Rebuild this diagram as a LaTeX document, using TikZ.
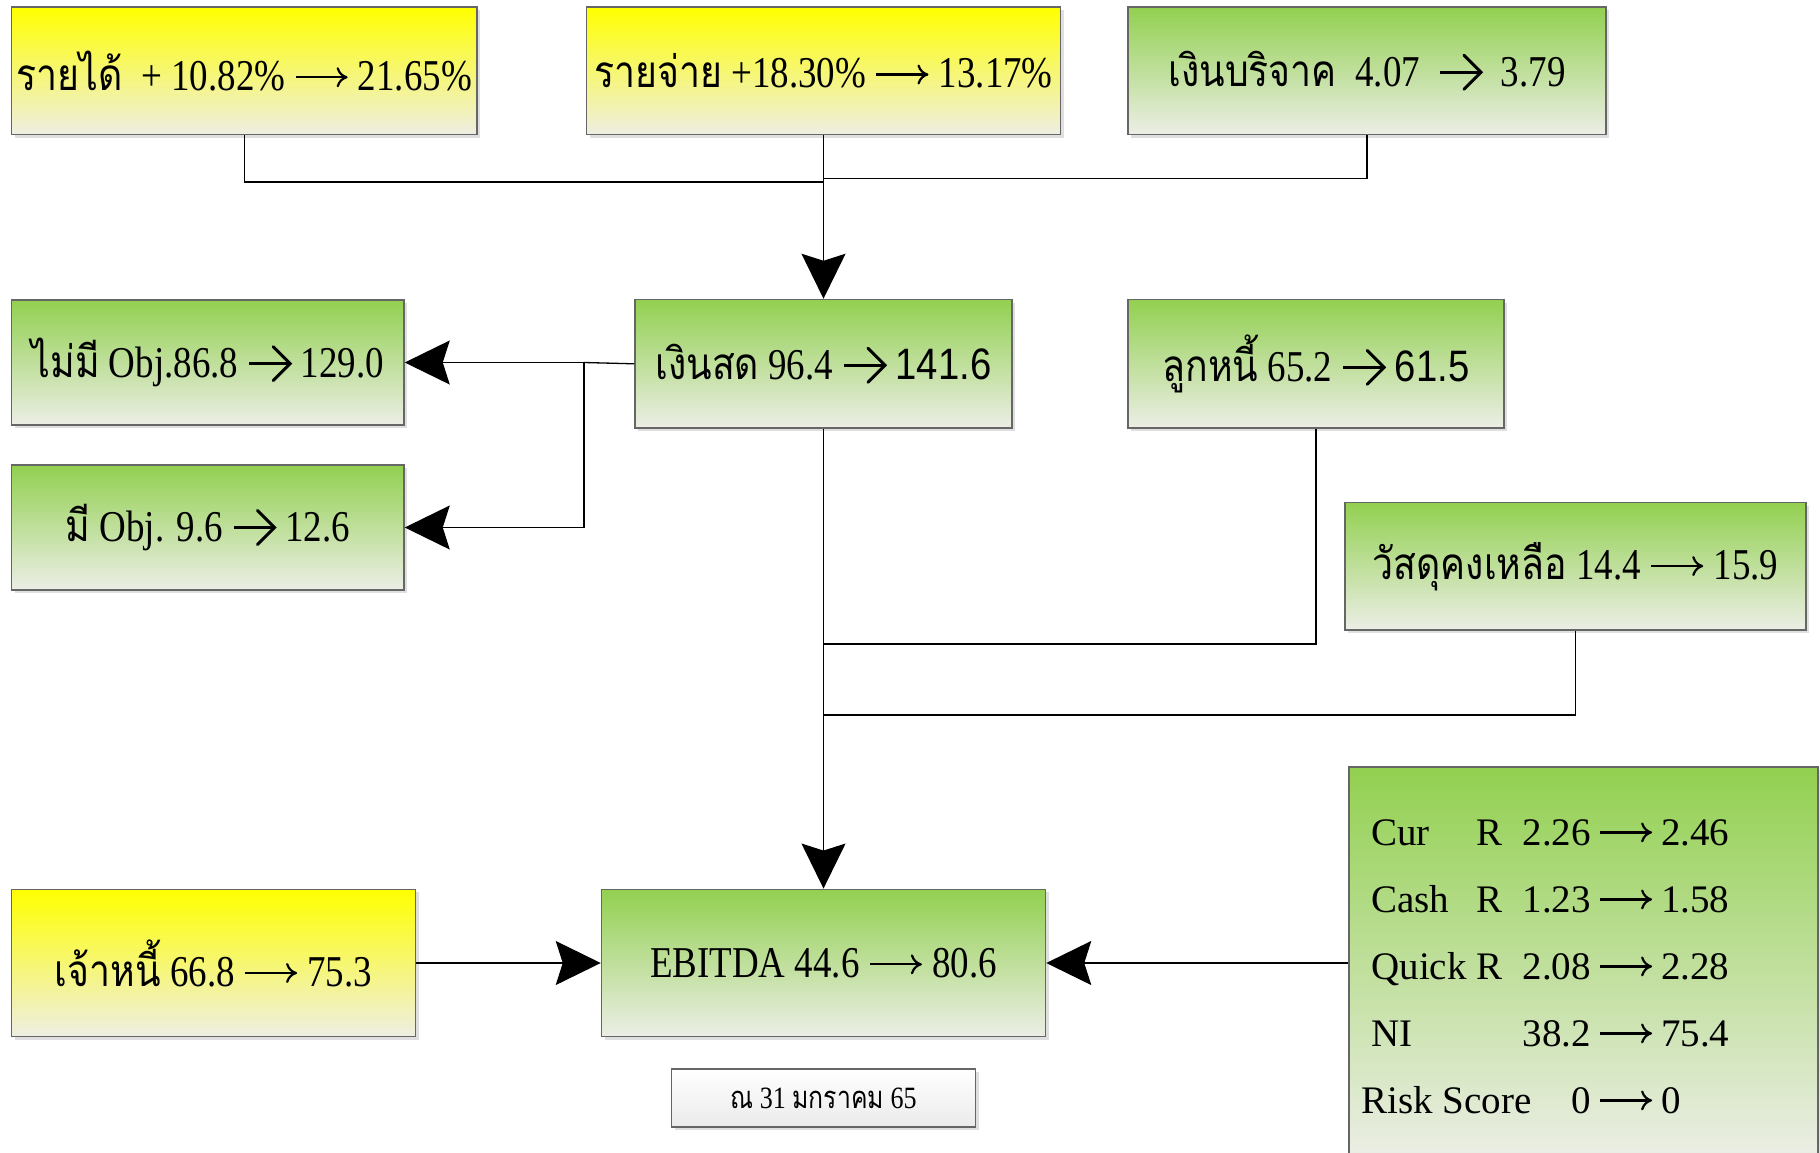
\documentclass[tikz,border=0pt]{standalone}
\usepackage{fontspec}
\setmainfont{Liberation Serif}
\newfontfamily\thai[Script=Thai,FakeStretch=0.85]{Loma}
\newfontfamily\thaismall[Script=Thai,FakeStretch=0.8]{Loma}
\newfontfamily\cond[FakeStretch=0.84]{Liberation Serif}
\newfontfamily\condsans[FakeStretch=0.87]{Liberation Sans}
\usetikzlibrary{arrows.meta,shadows}
\definecolor{gtop}{RGB}{146,208,80}
\definecolor{gbot}{RGB}{236,238,230}
\definecolor{ytop}{RGB}{255,255,0}
\definecolor{ybot}{RGB}{238,238,228}
\newcommand\chev{\tikz[baseline=-7pt]{\draw[line width=1.5pt] (0pt,0pt) -- (20pt,0pt);
  \draw[line width=1.5pt, line cap=round, line join=miter] (12pt,8.5pt) -- (20.5pt,0pt) -- (12pt,-8.5pt);}}
\newcommand\lar{\tikz[baseline=-6.5pt]{\draw[line width=1.1pt,
  -{Computer Modern Rightarrow[length=5.5pt,width=10pt,line width=1.1pt]}] (0pt,0pt) -- (26pt,0pt);}}
\newcommand\bxfont{\fontsize{22}{26}\selectfont\cond}
\begin{document}
\begin{tikzpicture}[x=0.5pt,y=-0.5pt,
  basebox/.style={draw=black!60, line width=0.75pt, inner sep=0pt, align=center,
    drop shadow={shadow xshift=1.5pt, shadow yshift=-1.5pt, opacity=0.25}, font=\bxfont},
  gbox/.style={basebox, top color=gtop, bottom color=gbot},
  ybox/.style={basebox, top color=ytop, bottom color=ybot},
  datebox/.style={basebox, top color=white, bottom color=black!8, font=\fontsize{15.5}{18}\selectfont\cond},
  conn/.style={draw=black, line width=0.65pt},
  arr/.style={conn, -{Stealth[length=22.5pt,width=22pt,inset=3.5pt]}}
]
\fill[white] (0,0) rectangle (1820,1152);
\path[use as bounding box] (0,0) rectangle (1820,1152);

% top row
\node[ybox, minimum width=232.7pt, minimum height=63.8pt] (b1) at (244.3,70.8)
  {{\thai รายได้}\ \ + 10.82\% \lar{} 21.65\%};
\node[ybox, minimum width=237pt, minimum height=63.8pt] (b2) at (823.5,70.8)
  {{\thai รายจ่าย} +18.30\% \lar{} 13.17\%};
\node[gbox, minimum width=239pt, minimum height=63.8pt] (b3) at (1367,70.8)
  {{\thai เงินบริจาค}\ \ 4.07\ \ \chev\ \ 3.79};

% second row
\node[gbox, minimum width=196.2pt, minimum height=62.7pt] (b4) at (207.8,362.5)
  {{\thai ไม่มี} Obj.86.8 \chev{} 129.0};
\node[gbox, minimum width=188.5pt, minimum height=64.3pt] (b5) at (823.5,363.8)
  {{\thai เงินสด} 96.4 \chev{} {\condsans 141.6}};
\node[gbox, minimum width=188pt, minimum height=64.3pt] (b6) at (1316,363.8)
  {{\thai ลูกหนี้} 65.2 \chev{} {\condsans 61.5}};
\node[gbox, minimum width=196.2pt, minimum height=62.5pt] (b7) at (207.8,527.5)
  {{\thai มี} Obj. 9.6 \chev{} 12.6};
\node[gbox, minimum width=230.5pt, minimum height=63.7pt] (b8) at (1575.5,566.3)
  {{\thai วัสดุคงเหลือ} 14.4 \lar{} 15.9};

% bottom row
\node[ybox, minimum width=202pt, minimum height=73.7pt] (b10) at (213.5,963)
  {{\thai เจ้าหนี้} 66.8 \lar{} 75.3};
\node[gbox, minimum width=222pt, minimum height=73.7pt] (b11) at (823.5,963)
  {EBITDA 44.6 \lar{} 80.6};
\node[gbox, minimum width=234.5pt, minimum height=196pt] (b9) at (1583.5,963) {};
\node[anchor=west, inner sep=0pt, font=\fontsize{19.5}{33.5}\selectfont] (ratios) at (1371,966)
  {\begin{tabular}{@{}l@{\hspace{5pt}}l@{\hspace{10pt}}r@{\hspace{4pt}}c@{\hspace{4pt}}l@{}}
   Cur & R & 2.26 & \lar & 2.46\\
   Cash & R & 1.23 & \lar & 1.58\\
   Quick & R & 2.08 & \lar & 2.28\\
   NI & & 38.2 & \lar & 75.4\\
   \multicolumn{2}{@{}l}{\hspace*{-5pt}\rlap{Risk Score}} & 0 & \lar & 0
   \end{tabular}};
\node[datebox, minimum width=152pt, minimum height=29pt] (b12) at (823.5,1098)
  {{\thaismall ณ} 31 {\thaismall มกราคม} 65};

% junction coordinates
\coordinate (j1) at (823.5,182);
\coordinate (j2) at (823.5,178.7);
\coordinate (j3) at (584,362.5);
\coordinate (j4) at (823.5,644);
\coordinate (j5) at (823.5,715);

% connectors
\draw[conn] (b1.south) |- (j1);
\draw[conn] (b3.south) |- (j2);
\draw[arr] (b2.south) -- (b5.north);
\draw[conn] (b5.west) -- (j3);
\draw[arr] (j3) -- (b4.east);
\draw[arr] (j3) |- (b7.east);
\draw[arr] (b5.south) -- (b11.north);
\draw[conn] (b6.south) |- (j4);
\draw[conn] (b8.south) |- (j5);
\draw[arr] (b10.east) -- (b11.west);
\draw[arr] (b9.west) -- (b11.east);
\end{tikzpicture}
\end{document}
